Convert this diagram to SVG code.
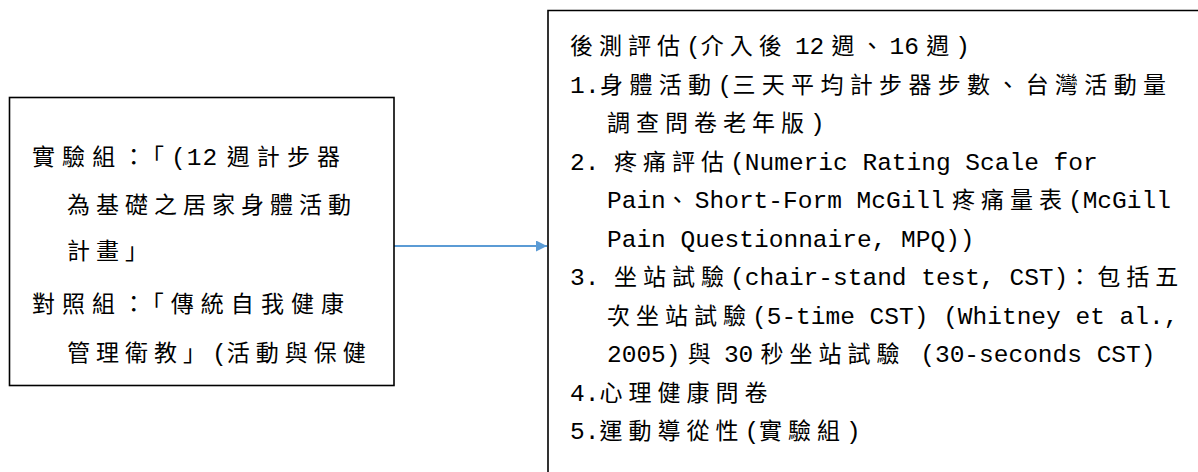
<svg xmlns="http://www.w3.org/2000/svg" width="1198" height="472" viewBox="0 0 1198 472">
<style>
text { white-space: pre; fill: #000; }
.c { font-family: "Noto Sans CJK TC", "Noto Sans CJK SC", sans-serif; font-size: 23px; letter-spacing: 6px; }
.l { font-family: "Liberation Mono", "Noto Sans CJK TC", monospace; font-size: 24.5px; }
.g { font-family: "Liberation Mono", monospace; font-size: 12px; }
.box { fill: #fff; stroke: #000; stroke-width: 1.6; }
.conn { stroke: #5B9BD5; stroke-width: 2; fill: none; }
</style>
<defs>
<marker id="ah" viewBox="0 0 10 10" refX="10" refY="5" markerWidth="11" markerHeight="11" markerUnits="userSpaceOnUse" orient="auto">
<path d="M0,0 L10,5 L0,10 Z" fill="#5B9BD5"/>
</marker>
</defs>
<rect width="1198" height="472" fill="#fff"/>
<g id="connectors">
<line class="conn" x1="394" y1="246" x2="547" y2="246" marker-end="url(#ah)"/>
</g>
<g id="node-groups">
<rect class="box" x="9.5" y="97.5" width="384.5" height="288"/>
<text x="32" y="165" textLength="314" lengthAdjust="spacing"><tspan class="c">實驗組：「</tspan><tspan class="l">(12</tspan><tspan class="g"> </tspan><tspan class="c">週計步器</tspan></text>
<text x="67" y="213"><tspan class="c">為基礎之居家身體活動</tspan></text>
<text x="67" y="259"><tspan class="c">計畫」</tspan></text>
<text x="32" y="312" textLength="318" lengthAdjust="spacing"><tspan class="c">對照組：「傳統自我健康</tspan></text>
<text x="67" y="361"><tspan class="c">管理衛教」</tspan><tspan class="l">(</tspan><tspan class="c">活動與保健</tspan></text>
</g>
<g id="node-posttest">
<path class="box" d="M548,480 V10.5 H1205" fill="none"/>
<text x="570" y="54"><tspan class="c">後測評估</tspan><tspan class="l">(</tspan><tspan class="c">介入後</tspan><tspan class="g"> </tspan><tspan class="l">12</tspan><tspan class="g"> </tspan><tspan class="c">週、</tspan><tspan class="l">16</tspan><tspan class="g"> </tspan><tspan class="c">週</tspan><tspan class="l">)</tspan></text>
<text x="570" y="92.5" textLength="602" lengthAdjust="spacing"><tspan class="l">1.</tspan><tspan class="c">身體活動</tspan><tspan class="l">(</tspan><tspan class="c">三天平均計步器步數、台灣活動量</tspan></text>
<text x="607" y="131"><tspan class="c">調查問卷老年版</tspan><tspan class="l">)</tspan></text>
<text x="570" y="169.5"><tspan class="l">2. </tspan><tspan class="c">疼痛評估</tspan><tspan class="l">(Numeric Rating Scale for</tspan></text>
<text x="607" y="208"><tspan class="l">Pain</tspan><tspan class="c">、</tspan><tspan class="l">Short-Form McGill</tspan><tspan class="g"> </tspan><tspan class="c">疼痛量表</tspan><tspan class="l">(McGill</tspan></text>
<text x="607" y="246.5"><tspan class="l">Pain Questionnaire, MPQ))</tspan></text>
<text x="570" y="285"><tspan class="l">3. </tspan><tspan class="c">坐站試驗</tspan><tspan class="l">(chair-stand test, CST)</tspan><tspan class="c">：包括五</tspan></text>
<text x="607" y="323.5"><tspan class="c">次坐站試驗</tspan><tspan class="l">(5-time CST) (Whitney et al.,</tspan></text>
<text x="607" y="362"><tspan class="l">2005)</tspan><tspan class="g"> </tspan><tspan class="c">與</tspan><tspan class="g"> </tspan><tspan class="l">30</tspan><tspan class="g"> </tspan><tspan class="c">秒坐站試驗</tspan><tspan class="l"> (30-seconds CST)</tspan></text>
<text x="570" y="400.5"><tspan class="l">4.</tspan><tspan class="c">心理健康問卷</tspan></text>
<text x="570" y="439"><tspan class="l">5.</tspan><tspan class="c">運動導從性</tspan><tspan class="l">(</tspan><tspan class="c">實驗組</tspan><tspan class="l">)</tspan></text>
</g>
</svg>
